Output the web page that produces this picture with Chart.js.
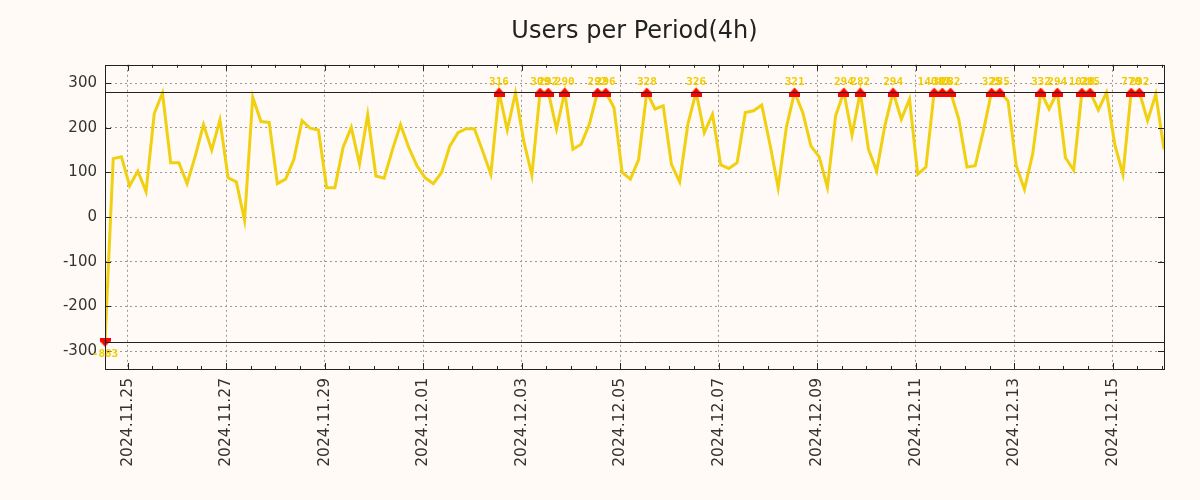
<!DOCTYPE html>
<html>
<head>
<meta charset="utf-8">
<title>Users per Period(4h)</title>
<script src="https://cdn.jsdelivr.net/npm/chart.js@4.4.1/dist/chart.umd.min.js"></script>
<style>
 html,body{margin:0;padding:0;background:#fffaf5;}
 #wrapID{position:relative;width:1200px;height:500px;}
</style>
</head>
<body>
<div id="wrapID"><canvas id="chartID" width="1200" height="500"></canvas></div>
<script>
// one value per 4h period, first period 2024.11.24 13:00
var startHour=-11; // hours from 2024.11.25 00:00
var periodHours=4;
var users=[-883,131,135,70,103,57,232,278,122,122,
 75,137,207,150,217,88,79,-7,268,214,
 212,75,85,129,216,199,195,66,66,156,
 201,119,229,92,87,150,207,156,115,88,
 75,100,159,189,198,198,148,96,316,195,
 278,171,94,309,292,197,290,152,163,208,
 292,296,245,100,85,129,328,242,249,118,
 79,208,326,189,230,117,109,122,234,238,
 251,163,66,201,321,234,159,135,67,227,
 294,184,282,152,103,205,294,219,264,96,
 112,14087,306,282,219,112,115,193,325,285,
 260,115,62,141,332,242,294,133,105,1028,
 285,240,279,163,96,770,292,216,275,152];
var limitTop=280;
var limitBottom=-280;
var yTicks=[-300,-200,-100,0,100,200,300];
var xTickHours=[0,48,96,144,192,240,288,336,384,432,480];
var xTickLabels=['2024.11.25','2024.11.27','2024.11.29','2024.12.01','2024.12.03','2024.12.05',
 '2024.12.07','2024.12.09','2024.12.11','2024.12.13','2024.12.15'];
var minorStep=12;

var lineColor='#f0d010';
var xMin=startHour;
var xMax=startHour+(users.length-1)*periodHours;
var linePts=[],overPts=[],underPts=[];
for (var i=0; i<users.length; i++) {
 var x=startHour+i*periodHours, v=users[i];
 linePts.push({x:x, y:Math.max(limitBottom,Math.min(limitTop,v))});
 if (v>limitTop) {overPts.push({x:x, y:limitTop, raw:v});}
 else if (v<limitBottom) {underPts.push({x:x, y:limitBottom, raw:v});}
}

function makeMarker(up) {
 var c=document.createElement('canvas');
 c.width=11; c.height=9;
 var g=c.getContext('2d');
 g.fillStyle='#ff0000';
 g.beginPath();
 if (up) {g.moveTo(5.5,0); g.lineTo(10,5); g.lineTo(1,5); g.closePath(); g.fill(); g.fillRect(0,5,11,4);}
 else {g.moveTo(5.5,9); g.lineTo(10,4); g.lineTo(1,4); g.closePath(); g.fill(); g.fillRect(0,0,11,4);}
 return c;
}

var framePlugin={
 id:'frame',
 beforeDraw:function(chart) {
  var c=chart.ctx;
  c.save(); c.fillStyle='#fffaf5'; c.fillRect(0,0,chart.width,chart.height); c.restore();
 },
 afterDatasetsDraw:function(chart) {
  var c=chart.ctx, a=chart.chartArea, sx=chart.scales.x, sy=chart.scales.y;
  c.save();
  c.strokeStyle='#222'; c.lineWidth=1;
  c.strokeRect(Math.round(a.left)+0.5,Math.round(a.top)+0.5,Math.round(a.right-a.left),Math.round(a.bottom-a.top));
  c.beginPath();
  // limit lines
  [limitTop,limitBottom].forEach(function(v) {
   var py=Math.round(sy.getPixelForValue(v))+0.5;
   c.moveTo(a.left,py); c.lineTo(a.right,py);
  });
  yTicks.forEach(function(v) {
   var py=Math.round(sy.getPixelForValue(v))+0.5;
   c.moveTo(a.left,py); c.lineTo(a.left+6,py);
   c.moveTo(a.right-6,py); c.lineTo(a.right,py);
  });
  for (var h=Math.ceil(xMin/minorStep)*minorStep; h<=xMax; h+=minorStep) {
   var px=Math.round(sx.getPixelForValue(h))+0.5;
   var len=(xTickHours.indexOf(h)>=0)?6:3;
   c.moveTo(px,a.bottom); c.lineTo(px,a.bottom-len);
   c.moveTo(px,a.top); c.lineTo(px,a.top+len);
  }
  c.stroke();
  // value labels on the clipped points
  c.fillStyle='#f2cc00';
  c.font='bold 11px "DejaVu Sans Mono"';
  c.textAlign='center'; c.textBaseline='middle';
  overPts.forEach(function(p) {
   c.fillText(String(p.raw),sx.getPixelForValue(p.x),sy.getPixelForValue(p.y)-10);
  });
  underPts.forEach(function(p) {
   c.fillText(String(p.raw),sx.getPixelForValue(p.x),sy.getPixelForValue(p.y)+12);
  });
  c.restore();
 }
};

var ctx=document.getElementById('chartID').getContext('2d');
var usersChart=new Chart(ctx,{
 type:'line',
 data:{datasets:[
  {label:'over', data:overPts, showLine:false, pointStyle:makeMarker(true), pointRadius:5, clip:false},
  {label:'under', data:underPts, showLine:false, pointStyle:makeMarker(false), pointRadius:5, clip:false},
  {label:'Users', data:linePts, borderColor:lineColor, borderWidth:3, pointRadius:0, tension:0}
 ]},
 options:{
  responsive:false, animation:false, devicePixelRatio:1,
  layout:{padding:{left:0, right:36, top:0, bottom:0}},
  plugins:{
   legend:{display:false}, tooltip:{enabled:false},
   title:{display:true, text:'Users per Period(4h)', fullSize:false, color:'#222',
    font:{family:'DejaVu Sans', size:24, weight:'normal'}, padding:{top:17, bottom:19}}
  },
  scales:{
   x:{type:'linear', min:xMin, max:xMax,
    afterBuildTicks:function(s) {s.ticks=xTickHours.map(function(h) {return {value:h};});},
    afterFit:function(s) {s.height=131;},
    ticks:{autoSkip:false, minRotation:90, maxRotation:90, padding:9, color:'#333',
     font:{family:'DejaVu Sans', size:15.5},
     callback:function(val) {return xTickLabels[xTickHours.indexOf(val)];}},
    grid:{color:'#999', lineWidth:1, drawTicks:false},
    border:{display:false, dash:[2,3]}
   },
   y:{min:-340, max:341,
    afterBuildTicks:function(s) {s.ticks=yTicks.map(function(v) {return {value:v};});},
    afterFit:function(s) {s.width=105;},
    ticks:{padding:8, color:'#333', font:{family:'DejaVu Sans', size:15},
     callback:function(val) {return String(val);}},
    grid:{color:'#999', lineWidth:1, drawTicks:false},
    border:{display:false, dash:[2,3]}
   }
  }
 },
 plugins:[framePlugin]
});
</script>
</body>
</html>
